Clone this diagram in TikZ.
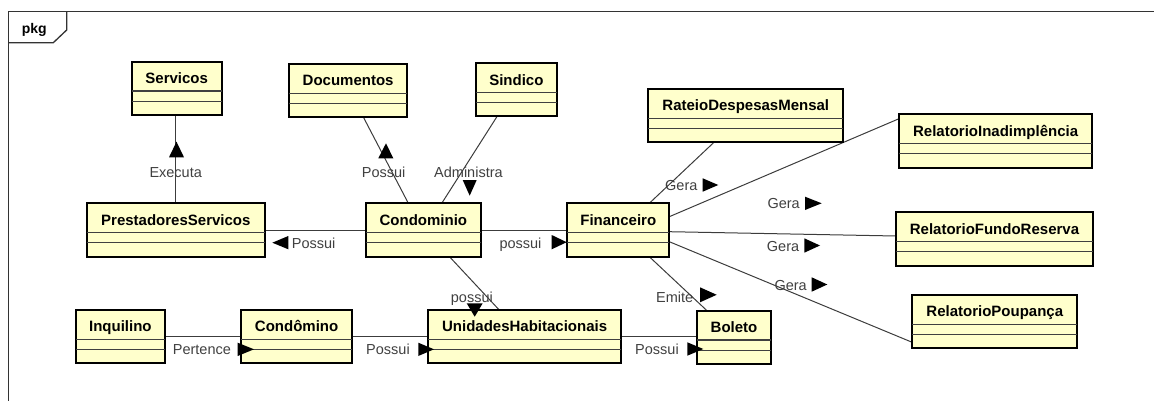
\documentclass[tikz,border=0pt]{standalone}
\usepackage{fontspec}
\setmainfont{Liberation Sans}
\usetikzlibrary{fit,backgrounds}
\definecolor{clsfill}{RGB}{255,255,204}
\definecolor{lncol}{RGB}{60,60,60}
\definecolor{lblcol}{RGB}{64,64,64}
\tikzset{
  clsbox/.style={draw=black, line width=2pt, fill=clsfill, inner sep=0pt, outer sep=0pt},
  divline/.style={draw=black!75, line width=1.1pt},
  clsname/.style={anchor=base, inner sep=0pt, font=\fontsize{15}{18}\selectfont\bfseries},
  lbl/.style={anchor=base west, inner sep=0pt, text=lblcol, font=\fontsize{14.5}{17}\selectfont},
  conn/.style={draw=lncol, line width=1pt},
  tri/.style={fill=black},
  frame/.style={draw=black!80, line width=1.3pt}
}
\newcommand\umlcls[6]{%
  \node[clsbox, fit={(#2,#3)(#4,#5)}] (#1) {};
  \draw[divline] ([yshift=-29.3pt]#1.north west) -- ([yshift=-29.3pt]#1.north east);
  \draw[divline] ([yshift=-39.4pt]#1.north west) -- ([yshift=-39.4pt]#1.north east);
  \node[clsname] (#1-t) at ([yshift=-21.8pt]#1.north) {#6};
}
\begin{document}
\begin{tikzpicture}[x=1pt,y=-1pt]
\useasboundingbox (0,0) rectangle (1154,401);
% package frame
\draw[frame] (8.3,402) -- (8.3,11.7) -- (1155,11.7);
\draw[frame] (8.3,42.7) -- (53.3,42.7) -- (66.7,30) -- (66.7,11.7);
\node[anchor=base west, inner sep=0pt, font=\fontsize{14}{17}\selectfont\bfseries] (pkg) at (21.7,33.5) {pkg};

% classes
\umlcls{serv}{131.7}{61.7}{221.7}{115}{Servicos}
\umlcls{prest}{86.7}{203.3}{265}{257.3}{PrestadoresServicos}
\umlcls{doc}{289}{64}{407.3}{117.3}{Documentos}
\umlcls{sind}{476}{63.3}{556.7}{116}{Sindico}
\umlcls{cond}{366}{203.3}{480.7}{257.3}{Condominio}
\umlcls{fin}{567.3}{203.3}{669.3}{256.7}{Financeiro}
\umlcls{rat}{648.3}{89}{843.3}{142.3}{RateioDespesasMensal}
\umlcls{inad}{899}{114.3}{1092.3}{167.7}{RelatorioInadimplência}
\umlcls{fundo}{895.7}{212.3}{1093.3}{265.7}{RelatorioFundoReserva}
\umlcls{poup}{912.3}{295}{1077.3}{348.3}{RelatorioPoupança}
\umlcls{inq}{75.7}{310}{165}{363.3}{Inquilino}
\umlcls{condo}{241}{310}{352.3}{363.3}{Condômino}
\umlcls{uh}{428.3}{310}{621}{363.3}{UnidadesHabitacionais}
\umlcls{bol}{697.3}{310.7}{770.7}{364}{Boleto}

% connectors (behind the boxes)
\begin{scope}[on background layer]
\draw[conn] (prest.north) -- (prest.north |- serv.south);
\draw[conn] (cond.west) -- (cond.west -| prest.east);
\draw[conn] ([xshift=-15pt]cond.north) -- ([xshift=15.3pt]doc.south);
\draw[conn] ([xshift=18.4pt]cond.north) -- ([xshift=-19pt]sind.south);
\draw[conn] (cond.east) -- (cond.east -| fin.west);
\draw[conn] ([xshift=26.7pt]cond.south) -- ([xshift=-25.4pt]uh.north);
\draw[conn] ([xshift=31pt]fin.north) -- ([xshift=-31.8pt]rat.south);
\draw[conn] ([yshift=13.3pt]fin.east) -- ([yshift=22.3pt]inad.west);
\draw[conn] ([yshift=-1.7pt]fin.east) -- ([yshift=3pt]fundo.west);
\draw[conn] ([yshift=-11.7pt]fin.east) -- ([yshift=-20.7pt]poup.west);
\draw[conn] ([xshift=31pt]fin.south) -- ([xshift=-27pt]bol.north);
\draw[conn] (inq.east) -- (inq.east -| condo.west);
\draw[conn] (condo.east) -- (condo.east -| uh.west);
\draw[conn] (uh.east) -- (uh.east -| bol.west);
\end{scope}

% labels
\node[lbl] (l1) at (149.3,177.7) {Executa};
\node[lbl] (l2) at (291.7,248.3) {Possui};
\node[lbl] (l3) at (361.7,178) {Possui};
\node[lbl] (l4) at (434,178) {Administra};
\node[lbl] (l5) at (499.3,248.3) {possui};
\node[lbl] (l6) at (450.7,302) {possui};
\node[lbl] (l7) at (665,190) {Gera};
\node[lbl] (l8) at (767.3,208.3) {Gera};
\node[lbl] (l9) at (766.7,251.7) {Gera};
\node[lbl] (l10) at (774.3,290.7) {Gera};
\node[lbl] (l11) at (656,302.3) {Emite};
\node[lbl] (l12) at (172.7,354) {Pertence};
\node[lbl] (l13) at (366,354) {Possui};
\node[lbl] (l14) at (635,354) {Possui};

% direction triangles
\fill[tri] (176.5,141.7) -- (169,157.3) -- (184,157.3) -- cycle;
\fill[tri] (272.3,242.7) -- (288.3,236) -- (288.3,249.3) -- cycle;
\fill[tri] (386,143.3) -- (378.3,158.3) -- (393.3,158.3) -- cycle;
\fill[tri] (462.7,180) -- (476.7,180) -- (469.7,195.7) -- cycle;
\fill[tri] (551.7,235) -- (551.7,249.3) -- (566.7,242.2) -- cycle;
\fill[tri] (466.7,303.3) -- (482.7,303.3) -- (474.7,316.7) -- cycle;
\fill[tri] (702.7,178.3) -- (702.7,191.7) -- (718.3,185) -- cycle;
\fill[tri] (805,196.7) -- (805,210) -- (821.7,203.3) -- cycle;
\fill[tri] (804.3,238.3) -- (804.3,252.7) -- (820,245.5) -- cycle;
\fill[tri] (811.7,277.3) -- (811.7,291.7) -- (827.3,284.5) -- cycle;
\fill[tri] (700,287.3) -- (700,302.3) -- (716.7,294.8) -- cycle;
\fill[tri] (237.7,342.7) -- (237.7,356) -- (254,349.3) -- cycle;
\fill[tri] (418.3,342.7) -- (418.3,356) -- (434,349.3) -- cycle;
\fill[tri] (687.3,342.3) -- (687.3,355.7) -- (703.3,349) -- cycle;
\end{tikzpicture}
\end{document}
